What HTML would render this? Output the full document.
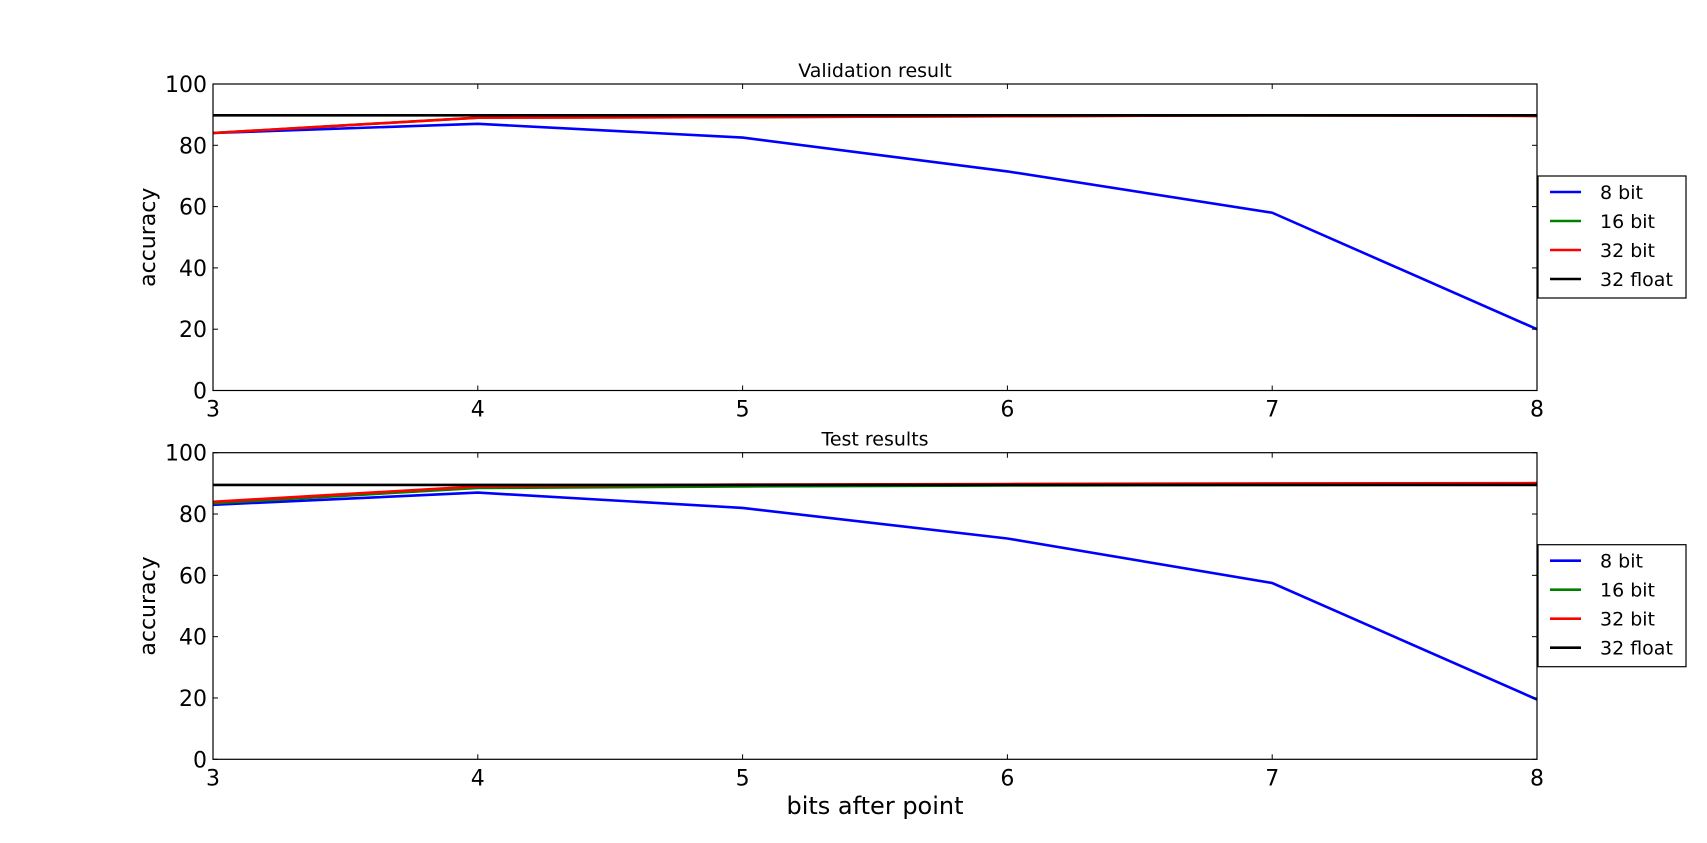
<!DOCTYPE html>
<html><head><meta charset="utf-8"><style>
body{margin:0;background:#fff;}
svg{display:block;font-family:"DejaVu Sans","Liberation Sans",sans-serif;}
</style></head><body>
<svg id="chart" width="1707" height="843" viewBox="0 0 1707 843" xmlns="http://www.w3.org/2000/svg"></svg>
<script>
const xCategories=[3,4,5,6,7,8];
const yTicks=[0,20,40,60,80,100];
const seriesNames=["8 bit","16 bit","32 bit","32 float"];
const seriesColors=["#0000ff","#008000","#ff0000","#000000"];
const val8bit=[84,87,82.5,71.5,58,20];
const val16bit=[84,89,89.2,89.5,89.8,89.6];
const val32bit=[84,89,89.2,89.5,89.8,89.6];
const val32float=[89.8,89.8,89.8,89.8,89.8,89.8];
const test8bit=[83,87,82,72,57.5,19.5];
const test16bit=[83.5,88.5,89,89.3,89.5,89.6];
const test32bit=[84,89,89.6,89.8,90,90.1];
const test32float=[89.5,89.5,89.5,89.5,89.5,89.5];
const panelTitles=["Validation result","Test results"];

const NS="http://www.w3.org/2000/svg";
const svg=document.getElementById('chart');
function mk(tag,attrs,parent){const e=document.createElementNS(NS,tag);for(const k in attrs)e.setAttribute(k,attrs[k]);(parent||svg).appendChild(e);return e;}
const L=213,R=1537;
const panels=[{top:84,bot:390.5,data:[val8bit,val16bit,val32bit,val32float],key:'validation'},
              {top:452.7,bot:759.3,data:[test8bit,test16bit,test32bit,test32float],key:'test'}];
function xs(v){return L+(v-3)/(8-3)*(R-L);}
panels.forEach((p,pi)=>{
  const ys=v=>p.bot-(v-0)/(100-0)*(p.bot-p.top);
  const g=mk('g',{});
  
  
  p.data.forEach((arr,si)=>{
    const pts=arr.map((v,i)=>xs(xCategories[i]).toFixed(1)+','+ys(v).toFixed(1)).join(' ');
    const pl=mk('polyline',{points:pts,fill:'none',stroke:seriesColors[si],'stroke-width':2.6},g);
    
    
  });
  const fr=mk('rect',{x:L,y:p.top,width:R-L,height:p.bot-p.top,fill:'none',stroke:'#000','stroke-width':1.2},g);
  
  
  yTicks.forEach(t=>{
    const y=ys(t);
    mk('line',{x1:L,x2:L+5,y1:y,y2:y,stroke:'#000'},g);
    mk('line',{x1:R,x2:R-5,y1:y,y2:y,stroke:'#000'},g);
    const tx=mk('text',{x:L-6,y:y+8,'text-anchor':'end','font-size':22},g);
    tx.textContent=t;
    
    
  });
  xCategories.forEach(c=>{
    const x=xs(c);
    mk('line',{x1:x,x2:x,y1:p.bot,y2:p.bot-5,stroke:'#000'},g);
    mk('line',{x1:x,x2:x,y1:p.top,y2:p.top+5,stroke:'#000'},g);
    const tx=mk('text',{x:x,y:p.bot+26,'text-anchor':'middle','font-size':22},g);
    tx.textContent=c;
    
    
  });
  const tt=mk('text',{x:(L+R)/2,y:p.top-7,'text-anchor':'middle','font-size':19},g);
  tt.textContent=panelTitles[pi];
  
  
  const yl=mk('text',{x:0,y:0,'text-anchor':'middle','font-size':22,transform:`translate(155,${(p.top+p.bot)/2}) rotate(-90)`},g);
  yl.textContent='accuracy';
  
  
  const ly=p.top+92;
  const lg=mk('g',{},g);
  
  
  mk('rect',{x:1538,y:ly,width:148,height:122,fill:'#fff',stroke:'#000','stroke-width':1.2},lg);
  seriesNames.forEach((n,si)=>{
    const yy=ly+16+si*29;
    const ln=mk('line',{x1:1550,x2:1581,y1:yy,y2:yy,stroke:seriesColors[si],'stroke-width':2.6},lg);
    
    
    const t=mk('text',{x:1600,y:yy+7,'font-size':19},lg);
    t.textContent=n;
    
    
  });
});
const xl=mk('text',{x:(L+R)/2,y:814,'text-anchor':'middle','font-size':24});
xl.textContent='bits after point';


</script>
</body></html>
